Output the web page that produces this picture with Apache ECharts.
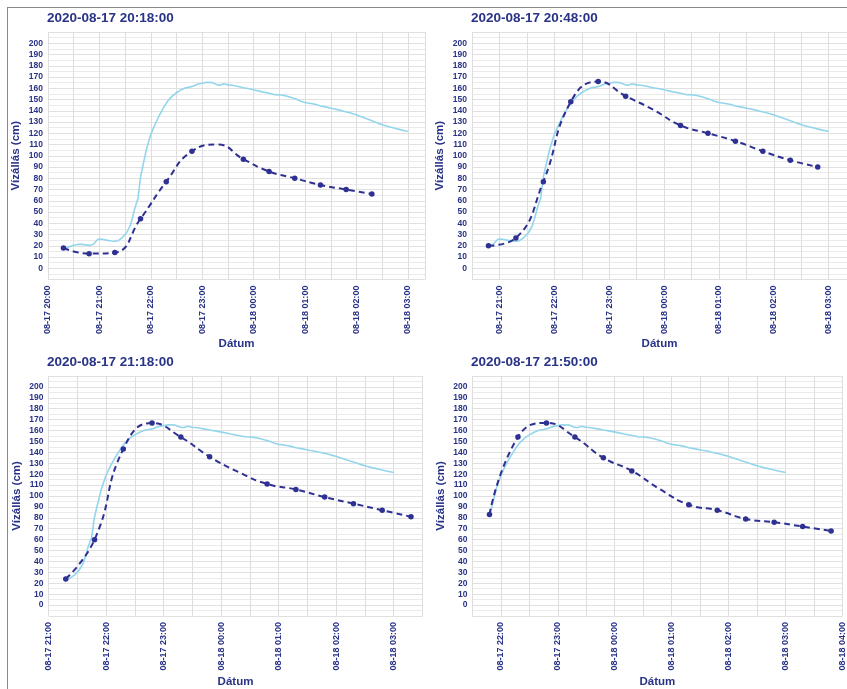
<!DOCTYPE html>
<html>
<head>
<meta charset="utf-8">
<script src="https://cdn.jsdelivr.net/npm/echarts@6.0.0/dist/echarts.min.js"></script>
<style>
html,body{margin:0;padding:0;background:#fff;}
#c{width:847px;height:689px;}
</style>
</head>
<body>
<div id="c"></div>
<script>
// Observed water level (same gauge series shown in every panel from its issue time)
const obsTimes = ["08-17 20:18","08-17 20:24","08-17 20:30","08-17 20:36","08-17 20:42","08-17 20:48","08-17 20:53","08-17 20:58","08-17 21:02","08-17 21:08","08-17 21:14","08-17 21:18","08-17 21:22","08-17 21:27","08-17 21:32","08-17 21:36","08-17 21:39","08-17 21:41","08-17 21:43","08-17 21:45","08-17 21:48","08-17 21:51","08-17 21:55","08-17 22:00","08-17 22:05","08-17 22:10","08-17 22:15","08-17 22:20","08-17 22:25","08-17 22:30","08-17 22:35","08-17 22:40","08-17 22:45","08-17 22:50","08-17 22:55","08-17 23:00","08-17 23:05","08-17 23:12","08-17 23:16","08-17 23:19","08-17 23:22","08-17 23:25","08-17 23:30","08-17 23:35","08-17 23:42","08-17 23:48","08-17 23:55","08-18 00:02","08-18 00:10","08-18 00:18","08-18 00:25","08-18 00:32","08-18 00:38","08-18 00:45","08-18 00:50","08-18 00:55","08-18 01:00","08-18 01:07","08-18 01:13","08-18 01:18","08-18 01:25","08-18 01:32","08-18 01:38","08-18 01:45","08-18 01:52","08-18 01:58","08-18 02:05","08-18 02:12","08-18 02:18","08-18 02:25","08-18 02:32","08-18 02:38","08-18 02:45","08-18 02:52","08-18 03:00"];
const obsValues = [17.5,19,20.5,21.3,21,20.3,21.3,25.5,26,25,24.2,24,24.5,27.5,32,38,46,52.5,53.5,62,81,92,106,119,128,136,143,149,153,156,158.5,160.3,161,162,163.8,164.5,165.3,165,163.5,162.7,163,164,163,162.6,161.5,160.5,159.5,158.3,156.8,155.5,154.3,154,153.2,151.5,150.3,148.5,147.3,146.5,145.5,144.3,143.2,142,141,139.6,138.2,136.8,134.8,132.8,131.2,129,127.2,125.8,124.5,123,121.5];

// Forecast issue times (titles), first forecast time, and forecast values (30-min steps)
const titles = ["2020-08-17 20:18:00","2020-08-17 20:48:00","2020-08-17 21:18:00","2020-08-17 21:50:00"];
const fcStart = ["08-17 20:18","08-17 20:48","08-17 21:18","08-17 21:48"];
const fc1 = [18,13,14,44,77,104,110,97,86,80,74,70,66];
const fc2 = [20,27,77,148,166,153,141,127,120,113,104,96,90];
const fc3 = [24,60,143,167,154,136,122,111,106,99,93,87,81];
const fc4 = [83,154,167,154,135,123,106,92,87,79,76,72,68];
const fcValues = [fc1,fc2,fc3,fc4];
// Visible x ranges per panel
const xMin = ["08-17 20:00","08-17 20:30","08-17 21:00","08-17 21:30"];
const xMax = ["08-18 03:20","08-18 03:20","08-18 03:30","08-18 04:00"];
const yTicks = [0,200];

function t(s){
  const [md,hm] = s.split(' ');
  const [mo,d] = md.split('-').map(Number);
  const [h,mi] = hm.split(':').map(Number);
  return Date.UTC(2020,mo-1,d,h,mi);
}
const pad = n => String(n).padStart(2,'0');
const HALF = 30*60*1000;

const navy = '#283287';
const dash = '#2e3192';
const light = '#93d6ec';

const grids = [
  {left:48, top:32, width:377, height:247.5},
  {left:472, top:32, width:380, height:247.5},
  {left:48.5, top:376, width:374, height:247.5},
  {left:472.4, top:376, width:372, height:247.5}
];
const titlePos = [[47,11],[471,11],[47,355],[471,355]];
const xNameGap = [57,57,60,60];

const option = {
  animation:false,
  backgroundColor:'#fff',
  title: titles.map((s,i)=>({text:s,left:titlePos[i][0],top:titlePos[i][1],padding:0,
    textStyle:{color:navy,fontFamily:'Liberation Sans',fontWeight:'bold',fontSize:13.5}})),
  grid: grids.map(g=>Object.assign({containLabel:false},g)),
  xAxis: grids.map((g,i)=>({
    type:'value', gridIndex:i, min:t(xMin[i]), max:t(xMax[i]), interval:HALF,
    name:'Dátum', nameLocation:'middle', nameGap:xNameGap[i],
    nameTextStyle:{color:navy,fontFamily:'Liberation Sans',fontWeight:'bold',fontSize:11.5},
    axisLine:{show:false}, axisTick:{show:false},
    axisLabel:{rotate:90, margin:6, color:navy, fontFamily:'Liberation Sans', fontWeight:'bold', fontSize:9,
      showMinLabel:true, showMaxLabel:true,
      formatter:v=>{const d=new Date(v); if(d.getUTCMinutes()!==0) return ''; return pad(d.getUTCMonth()+1)+'-'+pad(d.getUTCDate())+' '+pad(d.getUTCHours())+':00';}},
    splitLine:{show:true,lineStyle:{color:'#dedede',width:1}}
  })),
  yAxis: grids.map((g,i)=>({
    type:'value', gridIndex:i, min:-10, max:210, interval:10,
    name:'Vízállás (cm)', nameLocation:'middle', nameGap:26,
    nameTextStyle:{color:navy,fontFamily:'Liberation Sans',fontWeight:'bold',fontSize:11.5},
    axisLine:{show:false}, axisTick:{show:false},
    axisLabel:{margin:5,color:navy,fontFamily:'Liberation Sans',fontWeight:'bold',fontSize:8.5,
      formatter:v=>(v<yTicks[0]||v>yTicks[1])?'':String(v)},
    splitLine:{show:true,lineStyle:{color:'#e0e0e0',width:1}},
    minorTick:{show:false,splitNumber:2},
    minorSplitLine:{show:true,lineStyle:{color:'#ebebeb',width:1}}
  })),
  graphic:[
    {type:'line',shape:{x1:7,y1:7.5,x2:847,y2:7.5},style:{stroke:'#8a8a8a',lineWidth:1}},
    {type:'line',shape:{x1:7.5,y1:7,x2:7.5,y2:689},style:{stroke:'#8a8a8a',lineWidth:1}}
  ],
  series:[]
};

for(let i=0;i<4;i++){
  const s0 = t(fcStart[i]);
  const obs = [];
  for(let k=0;k<obsTimes.length;k++){
    const tt = t(obsTimes[k]);
    if(tt>=s0) obs.push([tt,obsValues[k]]);
  }
  option.series.push({
    type:'line', xAxisIndex:i, yAxisIndex:i, data:obs, showSymbol:false, symbol:'none',
    lineStyle:{color:light,width:1.6}, z:2
  });
  const fc = fcValues[i].map((v,k)=>{
    const item = {value:[s0+k*HALF, v]};
    if(k===6) item.symbol='none';
    return item;
  });
  option.series.push({
    type:'line', xAxisIndex:i, yAxisIndex:i, data:fc, smooth:0.5,
    symbol:'circle', symbolSize:5.5, showAllSymbol:true,
    itemStyle:{color:dash}, lineStyle:{color:dash,width:2,type:[6,4]}, z:3
  });
}

const chart = echarts.init(document.getElementById('c'),null,{renderer:'canvas'});
chart.setOption(option);
</script>
</body>
</html>
